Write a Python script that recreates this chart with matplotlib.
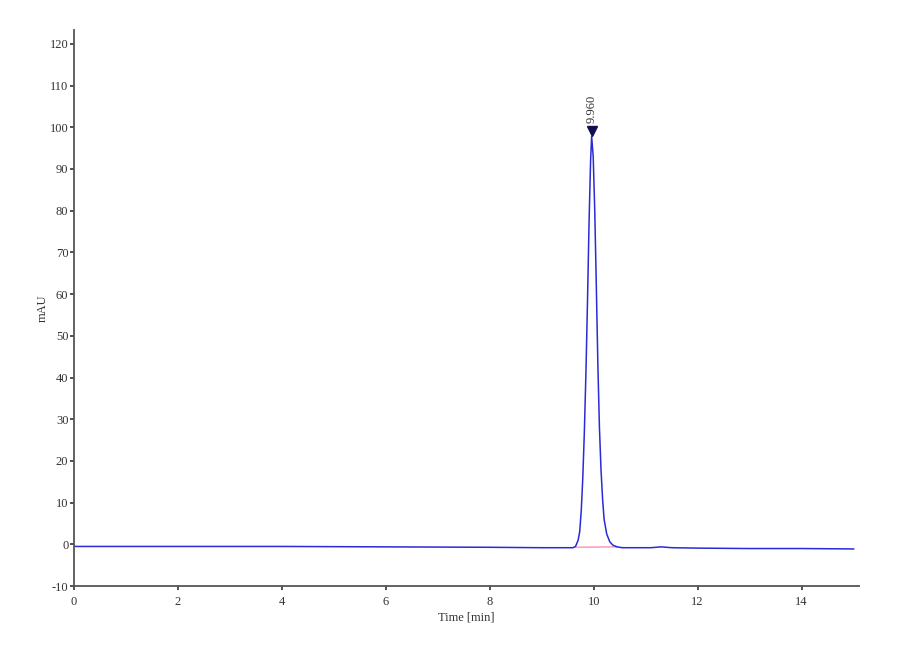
import matplotlib.pyplot as plt
import numpy as np

# Chromatogram trace
time_min = [0.0, 2.0, 4.0, 6.0, 8.0, 9.0, 9.5, 9.60, 9.65, 9.70, 9.73, 9.76, 9.79,
            9.82, 9.85, 9.88, 9.91, 9.94, 9.96, 9.99, 10.02, 10.05, 10.08, 10.11,
            10.14, 10.17, 10.20, 10.25, 10.31, 10.37, 10.45, 10.55, 10.8, 11.1,
            11.3, 11.5, 12.0, 13.0, 14.0, 15.0]
signal_mau = [-0.5, -0.5, -0.5, -0.6, -0.7, -0.8, -0.8, -0.8, -0.5, 1.0, 3.0, 8.0,
              16.0, 27.0, 41.0, 58.0, 77.0, 92.0, 97.8, 93.0, 80.0, 62.0, 43.0, 28.0,
              18.0, 11.0, 6.0, 2.5, 0.6, -0.2, -0.6, -0.8, -0.8, -0.8,
              -0.6, -0.8, -0.9, -1.0, -1.0, -1.1]

# Integration baseline under the peak
base_time = [9.65, 10.45]
base_mau = [-0.7, -0.6]

peak_time = 9.96
peak_height = 97.8
peak_label = "9.960"

xticks = [0, 2, 4, 6, 8, 10, 12, 14]
yticks = [-10, 0, 10, 20, 30, 40, 50, 60, 70, 80, 90, 100, 110, 120]

plt.rcParams['font.family'] = ['Liberation Serif', 'DejaVu Serif']
plt.rcParams['axes.unicode_minus'] = False

fig = plt.figure(figsize=(9, 6.6), dpi=100)
ax = fig.add_axes([0.0822, 0.112, 0.872, 0.8425])

ax.plot(base_time, base_mau, color='#ff9ec8', linewidth=1.2)
ax.plot(time_min, signal_mau, color='#2a2ad8', linewidth=1.1)

# Peak marker and retention time label
ax.plot([peak_time], [peak_height + 1.2], marker='v', color='#101050', markersize=7)
ax.text(peak_time, peak_height + 3.2, peak_label, rotation=90, ha='center', va='bottom',
        fontsize=9, color='#333333')

ax.set_xlim(0, 15.1)
ax.set_ylim(-10, 123.3)
ax.set_xticks(xticks)
ax.set_yticks(yticks)
ax.tick_params(labelsize=9, colors='#333333', length=3, width=1.2)
ax.tick_params(axis='x', pad=4)
ax.tick_params(axis='y', pad=1)
ax.set_xlabel('Time [min]', fontsize=9, color='#333333', labelpad=3)
ax.set_ylabel('mAU', fontsize=9, color='#333333', labelpad=1)

for side in ['top', 'right']:
    ax.spines[side].set_visible(False)
for side in ['left', 'bottom']:
    ax.spines[side].set_color('#555555')
    ax.spines[side].set_linewidth(1.3)

fig.savefig('out.png', dpi=100)
